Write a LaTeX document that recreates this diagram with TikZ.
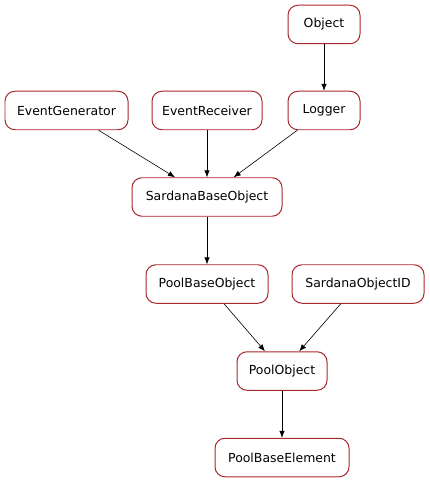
\documentclass[tikz,border=0pt]{standalone}
\usepackage{fontspec}
\setsansfont{DejaVu Sans}
\usetikzlibrary{arrows.meta}
\definecolor{clsB}{HTML}{A8282E}

\begin{document}
\begin{tikzpicture}[x=1bp,y=-1bp,>={Latex[length=7pt,width=5.5pt]},
  cls/.style={draw=clsB,line width=1pt,rounded corners=10pt,fill=white,
    font=\sffamily\fontsize{12.5}{14}\selectfont,inner sep=0pt,minimum height=38.5bp}]
\useasboundingbox (0,0) rectangle (429,483);
\node[cls,minimum width=72bp] (obj) at (324,24.5) {Object};
\node[cls,minimum width=123bp] (evgen) at (66.5,110.5) {EventGenerator};
\node[cls,minimum width=110bp] (evrec) at (207,110.5) {EventReceiver};
\node[cls,minimum width=72bp] (log) at (324,110.5) {Logger};
\node[cls,minimum width=150bp] (sbo) at (207,197) {SardanaBaseObject};
\node[cls,minimum width=122bp] (pbo) at (207,284) {PoolBaseObject};
\node[cls,minimum width=132bp] (soid) at (358,284) {SardanaObjectID};
\node[cls,minimum width=90bp] (pobj) at (282,371) {PoolObject};
\node[cls,minimum width=134bp] (pbe) at (282,457.5) {PoolBaseElement};
\draw[->,line width=0.6pt] (obj) -- (log);
\draw[->,line width=0.6pt] (evgen) -- (sbo);
\draw[->,line width=0.6pt] (evrec) -- (sbo);
\draw[->,line width=0.6pt] (log) -- (sbo);
\draw[->,line width=0.6pt] (sbo) -- (pbo);
\draw[->,line width=0.6pt] (pbo) -- (pobj);
\draw[->,line width=0.6pt] (soid) -- (pobj);
\draw[->,line width=0.6pt] (pobj) -- (pbe);
\end{tikzpicture}
\end{document}
